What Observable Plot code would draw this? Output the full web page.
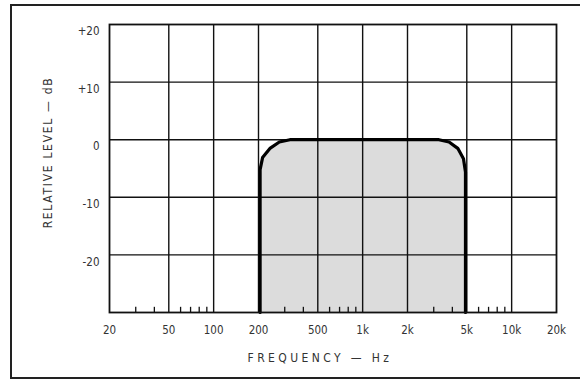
<!DOCTYPE html>
<html>
<head>
<meta charset="utf-8">
<script src="https://cdn.jsdelivr.net/npm/d3@7"></script>
<script src="https://cdn.jsdelivr.net/npm/@observablehq/plot@0.6"></script>
<style>
  html, body { margin: 0; padding: 0; background: #fff; }
  #wrap { position: relative; width: 580px; height: 383px; overflow: hidden; }
  #border { position: absolute; left: 10px; top: 4px; width: 600px; height: 375px; border: 2px solid #222; box-sizing: border-box; }
  #chart { position: absolute; left: 0; top: 0; }
</style>
</head>
<body>
<div id="wrap"><div id="border"></div><div id="chart"></div></div>
<script>
const xTicks = [20, 50, 100, 200, 500, 1000, 2000, 5000, 10000, 20000];
const xTickLabels = ["20", "50", "100", "200", "500", "1k", "2k", "5k", "10k", "20k"];
const yTicks = [20, 10, 0, -10, -20];
const yTickLabels = ["+20", "+10", "0", "-10", "-20"];
const gridX = [50, 100, 200, 500, 1000, 2000, 5000, 10000];
const gridY = [10, 0, -10, -20];
const minorX = [30, 40, 60, 70, 80, 90, 300, 400, 600, 700, 800, 900, 3000, 4000, 6000, 7000, 8000, 9000];
const freq  = [205, 205, 213, 240, 276, 325, 3250, 3800, 4350, 4750, 4900, 4900];
const level = [-30, -5.2, -3.1, -1.45, -0.4, 0, 0, -0.4, -1.5, -3.3, -5.6, -30];
const xTitle = "FREQUENCY — Hz";
const yTitle = "RELATIVE LEVEL — dB";

const curve = freq.map((f, i) => ({f, db: level[i]}));
const xLab = xTicks.map((v, i) => ({v, t: xTickLabels[i]}));
const yLab = yTicks.map((v, i) => ({v, t: yTickLabels[i]}));
const font = "'DejaVu Sans Condensed', 'Liberation Sans Narrow', 'Liberation Sans', sans-serif";

const chart = Plot.plot({
  width: 580,
  height: 383,
  marginLeft: 109,
  marginRight: 24,
  marginTop: 24,
  marginBottom: 71,
  style: {fontFamily: font, background: "transparent"},
  x: {type: "log", domain: [20, 20000], axis: null},
  y: {domain: [-30, 20], axis: null},
  marks: [
    Plot.areaY(curve, {x: "f", y1: -30, y2: "db", fill: "#dcdcdc", curve: "linear"}),
    Plot.ruleX(gridX, {stroke: "#111", strokeWidth: 1.4}),
    Plot.ruleY(gridY, {stroke: "#111", strokeWidth: 1.4}),
    Plot.ruleX(minorX, {x: d => d, y1: -30, y2: -29.1, stroke: "#111", strokeWidth: 1.3}),
    Plot.line(curve, {x: "f", y: "db", stroke: "#000", strokeWidth: 3.2, strokeLinejoin: "round", curve: "linear"}),
    Plot.frame({stroke: "#111", strokeWidth: 1.8}),
    Plot.text(xLab, {x: "v", y: -30, dy: 18, text: "t", fontSize: 11.5, fill: "#333"}),
    Plot.text(yLab, {x: 20, y: "v", dx: -10, dy: 7, text: "t", textAnchor: "end", fontSize: 11.5, fill: "#333"}),
    Plot.text([xTitle], {frameAnchor: "bottom", dy: 46, dx: -13, textAnchor: "middle", lineAnchor: "middle", fontSize: 12, fill: "#333"}),
    Plot.text([yTitle], {frameAnchor: "left", dx: -61, dy: -16, rotate: -90, textAnchor: "middle", lineAnchor: "middle", fontSize: 12, fill: "#333"})
  ]
});
d3.select(chart).selectAll("text").each(function() {
  const t = this.textContent;
  if (t === xTitle) this.style.letterSpacing = "3.4px";
  if (t === yTitle) this.style.letterSpacing = "1.7px";
});
document.getElementById("chart").appendChild(chart);
</script>
</body>
</html>
